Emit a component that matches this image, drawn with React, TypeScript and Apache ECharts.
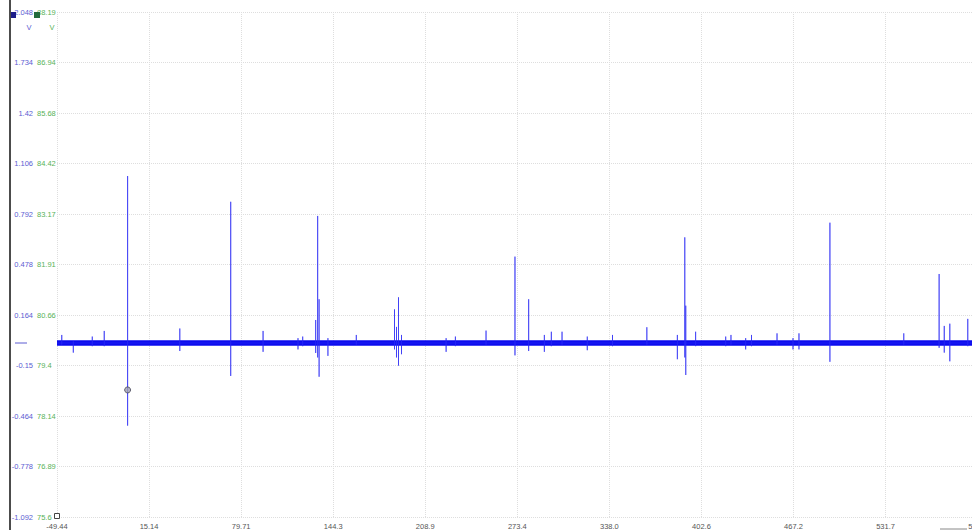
import React, { useEffect, useRef } from "react";
import * as echarts from "echarts";

// Axis ticks
const X_MIN = -49.44;
const X_STEP = 64.574;
const X_MAX = X_MIN + 10 * X_STEP;
const xTickLabels = ["-49.44", "15.14", "79.71", "144.3", "208.9", "273.4", "338.0", "402.6", "467.2", "531.7", "596.3"];

const Y_MIN = -1.092;
const Y_STEP = 0.314;
const Y_MAX = 2.048;
const voltLabels = ["-1.092", "-0.778", "-0.464", "-0.15", "0.164", "0.478", "0.792", "1.106", "1.42", "1.734", "2.048"];
const tempLabels = ["75.6", "76.89", "78.14", "79.4", "80.66", "81.91", "83.17", "84.42", "85.68", "86.94", "88.19"];

// Signal: baseline level and spike events (x position, peak high, peak low)
const baselineLevel = -0.01;
const spikeX = [
  -46.1, -38.0, -24.7, -16.3, 0.08, 36.7, 72.4, 95.1, 119.6, 122.9,
  132.0, 133.4, 134.4, 140.6, 160.5, 187.3, 188.7, 190.1, 192.2, 223.5,
  230.0, 251.5, 271.8, 281.4, 292.4, 297.3, 304.8, 322.5, 340.2, 364.3,
  385.7, 390.9, 391.6, 398.5, 419.6, 423.3, 433.6, 437.7, 455.6, 466.8,
  471.0, 492.7, 544.5, 569.3, 572.9, 576.8, 589.4,
];
const spikeHigh = [
  0.04, 0.0, 0.03, 0.065, 1.028, 0.08, 0.868, 0.065, 0.02, 0.03,
  0.133, 0.78, 0.262, 0.02, 0.04, 0.199, 0.09, 0.274, 0.04, 0.02,
  0.03, 0.067, 0.527, 0.262, 0.04, 0.06, 0.06, 0.03, 0.04, 0.088,
  0.04, 0.647, 0.222, 0.06, 0.03, 0.04, 0.02, 0.04, 0.05, 0.02,
  0.05, 0.738, 0.05, 0.419, 0.096, 0.11, 0.14,
];
const spikeLow = [
  -0.02, -0.07, -0.03, -0.03, -0.524, -0.06, -0.215, -0.065, -0.05, -0.03,
  -0.072, -0.1, -0.22, -0.09, -0.02, -0.05, -0.1, -0.151, -0.08, -0.065,
  -0.03, -0.02, -0.087, -0.06, -0.065, -0.03, -0.02, -0.055, -0.03, -0.02,
  -0.111, -0.1, -0.209, -0.03, -0.03, -0.02, -0.05, -0.03, -0.02, -0.05,
  -0.05, -0.127, -0.02, -0.04, -0.07, -0.124, -0.03,
];

// Cursor marker
const cursorPoint = [0.08, -0.302];

export default function App() {
  const ref = useRef<HTMLDivElement>(null);

  useEffect(() => {
    if (!ref.current) return;
    const chart = echarts.init(ref.current, null, { renderer: "svg" });

    const spikeData: number[][] = [[X_MIN, baselineLevel]];
    spikeX.forEach((x, i) => {
      spikeData.push([x, baselineLevel]);
      spikeData.push([x, spikeHigh[i]]);
      spikeData.push([x, spikeLow[i]]);
      spikeData.push([x, baselineLevel]);
    });
    spikeData.push([X_MAX, baselineLevel]);

    const font = "Arial, 'Liberation Sans', sans-serif";
    const blue = "#5c5cd2";
    const green = "#58b258";

    const yBase = {
      type: "value",
      min: Y_MIN,
      max: Y_MAX,
      interval: Y_STEP,
      position: "left",
      axisLine: { show: false },
      axisTick: { show: false },
    };

    chart.setOption({
      animation: false,
      backgroundColor: "#ffffff",
      grid: { left: 57, right: 11, top: 12, bottom: 13, containLabel: false },
      xAxis: {
        type: "value",
        min: X_MIN,
        max: X_MAX,
        interval: X_STEP,
        axisLine: { show: false },
        axisTick: { show: false },
        splitLine: { show: true, lineStyle: { color: "#dedede", type: "dotted", width: 1 } },
        axisLabel: {
          show: true,
          showMinLabel: true,
          showMaxLabel: true,
          margin: 5,
          fontSize: 7.5,
          fontFamily: font,
          color: "#555555",
          formatter: (v: number) => {
            const i = Math.round((v - X_MIN) / X_STEP);
            return xTickLabels[i] ?? "";
          },
        },
      },
      yAxis: [
        {
          ...yBase,
          splitLine: { show: true, lineStyle: { color: "#dedede", type: "dotted", width: 1 } },
          axisLabel: {
            show: true,
            showMinLabel: true,
            showMaxLabel: true,
            margin: 24,
            fontSize: 7.5,
            fontFamily: font,
            color: blue,
            formatter: (v: number) => voltLabels[Math.round((v - Y_MIN) / Y_STEP)] ?? "",
          },
        },
        {
          ...yBase,
          splitLine: { show: false },
          axisLabel: {
            show: true,
            showMinLabel: true,
            showMaxLabel: true,
            margin: 20,
            align: "left",
            fontSize: 7.5,
            fontFamily: font,
            color: green,
            formatter: (v: number) => tempLabels[Math.round((v - Y_MIN) / Y_STEP)] ?? "",
          },
        },
      ],
      series: [
        {
          type: "line",
          name: "baseline",
          yAxisIndex: 0,
          data: [
            [X_MIN, baselineLevel],
            [X_MAX, baselineLevel],
          ],
          showSymbol: false,
          symbol: "none",
          lineStyle: { color: "#0c0cee", width: 5.5 },
          z: 3,
        },
        {
          type: "line",
          name: "signal",
          yAxisIndex: 0,
          data: spikeData,
          showSymbol: false,
          symbol: "none",
          lineStyle: { color: "rgba(40,40,245,0.65)", width: 1 },
          z: 4,
        },
        {
          type: "scatter",
          name: "cursor",
          yAxisIndex: 0,
          data: [cursorPoint],
          symbol: "circle",
          symbolSize: 6,
          itemStyle: { color: "#a0a0b0", borderColor: "#444455", borderWidth: 1 },
          z: 5,
        },
      ],
      graphic: [
        { type: "line", shape: { x1: 10, y1: 0, x2: 10, y2: 530 }, style: { stroke: "#111111", lineWidth: 1.5 }, z: 10 },
        { type: "rect", shape: { x: 11, y: 12, width: 5, height: 6 }, style: { fill: "#1c1c8a" }, z: 10 },
        { type: "rect", shape: { x: 34, y: 12, width: 6, height: 6 }, style: { fill: "#226b3c" }, z: 10 },
        { type: "text", x: 29, y: 27, style: { text: "V", fill: blue, fontSize: 7.5, fontFamily: font, align: "center", verticalAlign: "middle" }, z: 10 },
        { type: "text", x: 52, y: 27, style: { text: "V", fill: green, fontSize: 7.5, fontFamily: font, align: "center", verticalAlign: "middle" }, z: 10 },
        { type: "line", shape: { x1: 15, y1: 343, x2: 27, y2: 343 }, style: { stroke: blue, lineWidth: 1 }, z: 10 },
        { type: "rect", shape: { x: 54.5, y: 513.5, width: 5, height: 5 }, style: { fill: "#ffffff", stroke: "#444444", lineWidth: 1 }, z: 10 },
        { type: "line", shape: { x1: 940, y1: 529, x2: 967, y2: 529 }, style: { stroke: "#888888", lineWidth: 1 }, z: 10 },
      ],
    });

    return () => chart.dispose();
  }, []);

  return (
    <div style={{ position: "fixed", left: 0, top: 0, width: 972, height: 530, overflow: "hidden", background: "#fff" }}>
      <div ref={ref} style={{ width: 990, height: 530 }} />
    </div>
  );
}
